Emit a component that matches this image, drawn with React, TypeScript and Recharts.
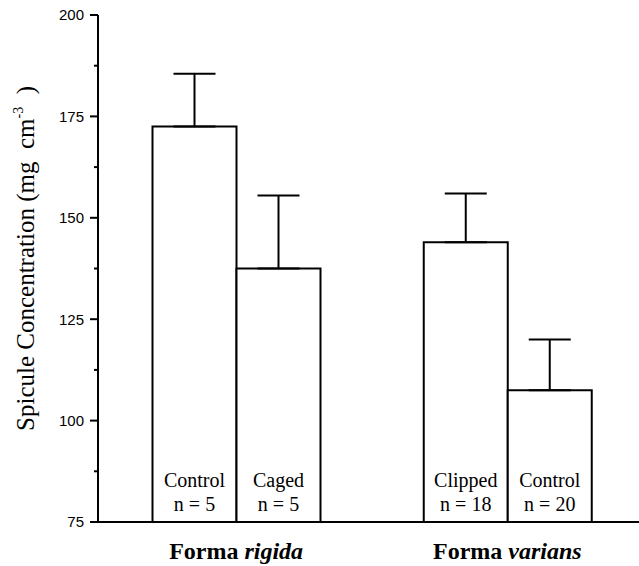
import React from 'react';
import { BarChart, Bar, XAxis, YAxis, ErrorBar, LabelList, Label } from 'recharts';

const groups = ['rigida', 'varians'];

const firstLabels = ['Control', 'Clipped'];
const firstN = [5, 18];
const firstMeans = [172.5, 144];
const firstErr = [13, 12];

const secondLabels = ['Caged', 'Control'];
const secondN = [5, 20];
const secondMeans = [137.5, 107.5];
const secondErr = [18, 12.5];

const majorTicks = [75, 100, 125, 150, 175, 200];
const minorTicks = [87.5, 112.5, 137.5, 162.5, 187.5];

const data = groups.map((g, i) => ({
    group: g,
    first: firstMeans[i],
    firstErr: [0, firstErr[i]],
    firstName: firstLabels[i],
    firstN: `n = ${firstN[i]}`,
    second: secondMeans[i],
    secondErr: [0, secondErr[i]],
    secondName: secondLabels[i],
    secondN: `n = ${secondN[i]}`,
}));

const serif = '"Liberation Serif", "Times New Roman", serif';
const sans = '"Liberation Sans", Arial, sans-serif';

const YTick = (props: any) => {
    const { x, y, payload } = props;
    const major = majorTicks.includes(payload.value);
    return (
        <g>
            <line x1={x - (major ? 8 : 4)} x2={x} y1={y} y2={y} stroke="#000" strokeWidth={2} />
            {major && (
                <text x={x - 14} y={y} dy="0.36em" textAnchor="end" fontFamily={sans} fontSize={15} fill="#000">
                    {payload.value}
                </text>
            )}
        </g>
    );
};

const XTick = (props: any) => {
    const { x, y, payload } = props;
    return (
        <text x={x} y={y + 37} textAnchor="middle" fontFamily={serif} fontSize={24} fontWeight="bold" fill="#000">
            Forma <tspan fontStyle="italic">{payload.value}</tspan>
        </text>
    );
};

const barText = (offset: number) => (props: any) => {
    const { x, y, width, height, value } = props;
    return (
        <text x={x + width / 2} y={y + height - offset} textAnchor="middle" fontFamily={serif} fontSize={20} fill="#000">
            {value}
        </text>
    );
};

const YLabel = (props: any) => {
    const vb = props.viewBox;
    const cx = 34;
    const cy = vb.y + vb.height / 2 - 10;
    return (
        <text
            x={cx}
            y={cy}
            transform={`rotate(-90 ${cx} ${cy})`}
            textAnchor="middle"
            fontFamily={serif}
            fontSize={25}
            fill="#000"
        >
            Spicule Concentration (mg{'\u00a0\u00a0'}cm
            <tspan dy={-11} fontSize={14}>-3</tspan>
            <tspan dy={11}>{'\u00a0\u00a0'})</tspan>
        </text>
    );
};

export default function App() {
    return (
        <div style={{ position: 'absolute', left: 0, top: 0, width: 639, height: 566, overflow: 'hidden', background: '#fff' }}>
            <BarChart
                width={643}
                height={566}
                data={data}
                margin={{ top: 15, right: 0, bottom: 0, left: 0 }}
                barGap={0}
            >
                <XAxis
                    dataKey="group"
                    height={44}
                    padding={{ left: 2.5, right: 0 }}
                    axisLine={{ stroke: '#000', strokeWidth: 2 }}
                    tickLine={false}
                    tickSize={0}
                    tickMargin={0}
                    tick={<XTick />}
                    interval={0}
                />
                <YAxis
                    width={98}
                    domain={[75, 200]}
                    ticks={[...majorTicks, ...minorTicks].sort((a, b) => a - b)}
                    interval={0}
                    allowDataOverflow
                    axisLine={{ stroke: '#000', strokeWidth: 2 }}
                    tickLine={false}
                    tickSize={0}
                    tickMargin={0}
                    tick={<YTick />}
                >
                    <Label content={<YLabel />} />
                </YAxis>
                <Bar dataKey="first" barSize={84} fill="#fff" stroke="#000" strokeWidth={2} isAnimationActive={false}>
                    <ErrorBar dataKey="firstErr" width={21} stroke="#000" strokeWidth={2} direction="y" />
                    <LabelList dataKey="firstName" content={barText(35)} />
                    <LabelList dataKey="firstN" content={barText(11)} />
                </Bar>
                <Bar dataKey="second" barSize={84} fill="#fff" stroke="#000" strokeWidth={2} isAnimationActive={false}>
                    <ErrorBar dataKey="secondErr" width={21} stroke="#000" strokeWidth={2} direction="y" />
                    <LabelList dataKey="secondName" content={barText(35)} />
                    <LabelList dataKey="secondN" content={barText(11)} />
                </Bar>
            </BarChart>
        </div>
    );
}
